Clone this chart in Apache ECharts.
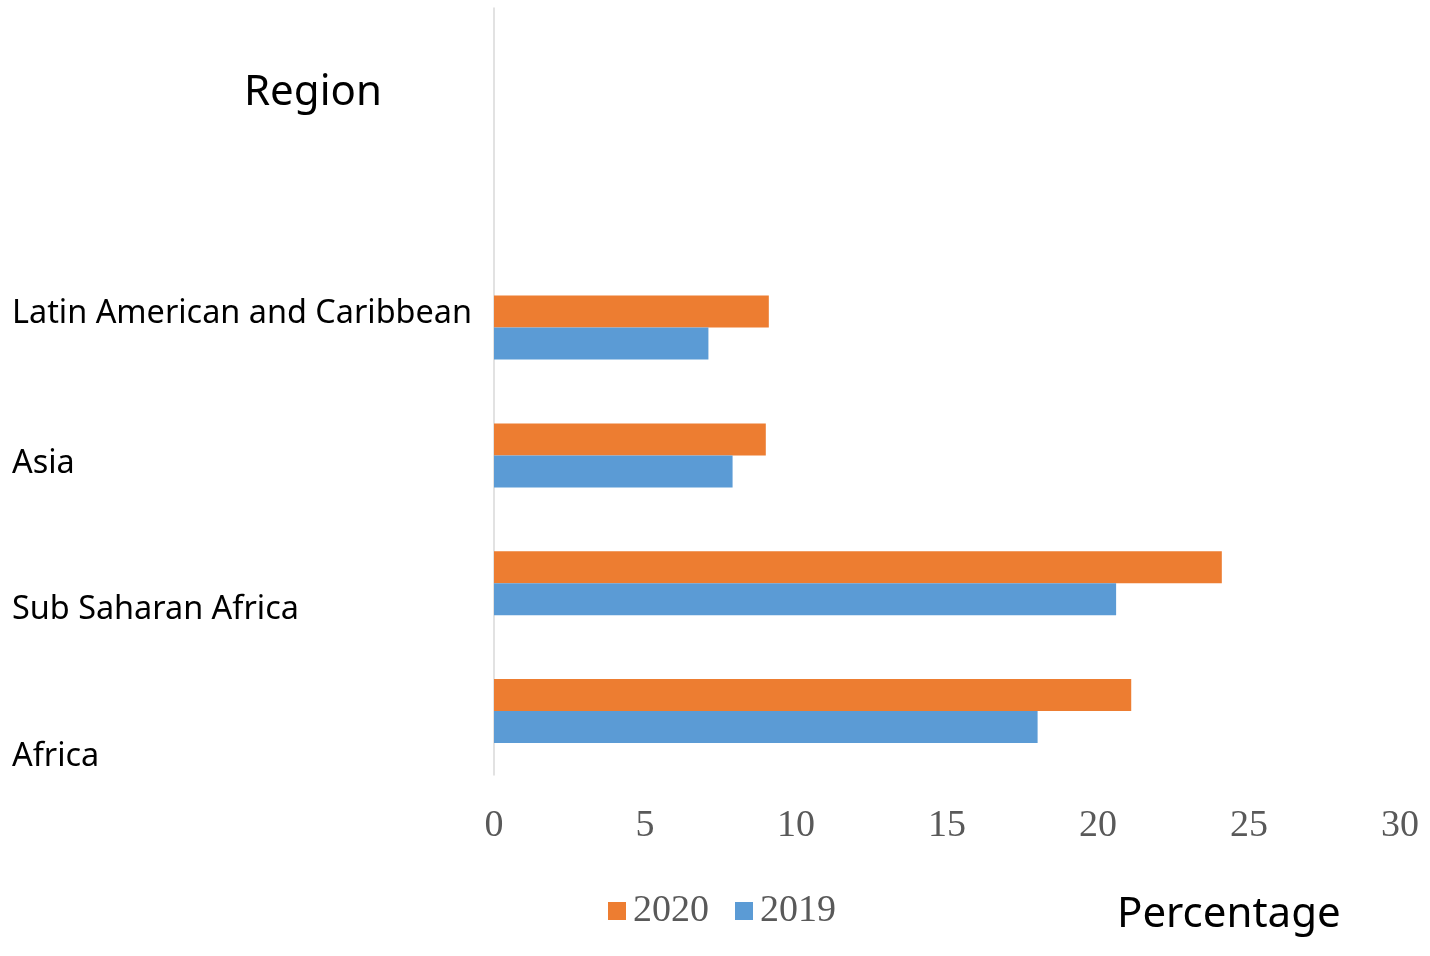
<!DOCTYPE html>
<html>
<head>
<meta charset="utf-8">
<script src="https://cdn.jsdelivr.net/npm/echarts@6/dist/echarts.min.js"></script>
<style>
html,body{margin:0;padding:0;background:#fff;}
#main{width:1430px;height:956px;}
</style>
</head>
<body>
<div id="main"></div>
<script>
// categories bottom to top, two empty slots on top like the original
var regions = ['Africa', 'Sub Saharan Africa', 'Asia', 'Latin American and Caribbean', '', ''];
var years = ['2020', '2019'];
var val2020 = [21.1, 24.1, 9.0, 9.1, null, null];
var val2019 = [18.0, 20.6, 7.9, 7.1, null, null];
var xTicks = [0, 5, 10, 15, 20, 25, 30];

// label shift (px, + = down) so the labels sit where the original puts them
var labelShift = [46, 27, 8, -14, 0, 0];

var chart = echarts.init(document.getElementById('main'));

var labelRich = {};
labelShift.forEach(function (d, i) {
	labelRich['s' + i] = {
		width: 472,
		align: 'left',
		fontFamily: 'Noto Sans',
		fontSize: 32.4,
		color: '#000',
		padding: d >= 0 ? [2 * d, 0, 0, 0] : [0, 0, -2 * d, 0]
	};
});

var option = {
	backgroundColor: '#fff',
	animation: false,
	title: [
		{ text: 'Region', left: 239, top: 67, textStyle: { fontFamily: 'Noto Sans', fontSize: 42, fontWeight: 'normal', color: '#000' } },
		{ text: 'Percentage', left: 1112, top: 889, textStyle: { fontFamily: 'Noto Sans', fontSize: 42, fontWeight: 'normal', color: '#000' } }
	],
	legend: {
		data: years,
		left: 603,
		top: 887,
		itemWidth: 18,
		itemHeight: 18,
		itemGap: 26,
		icon: 'rect',
		textStyle: { fontFamily: 'Liberation Serif', fontSize: 38, color: '#595959', padding: [0, 0, 0, 2] }
	},
	grid: { left: 494, right: 30, top: 8, bottom: 181, containLabel: false, outerBoundsMode: 'none' },
	xAxis: {
		type: 'value',
		min: xTicks[0],
		max: xTicks[xTicks.length - 1],
		interval: xTicks[1] - xTicks[0],
		axisLine: { show: false },
		axisTick: { show: false },
		splitLine: { show: false },
		axisLabel: { margin: 32, fontFamily: 'Liberation Serif', fontSize: 38, color: '#595959' }
	},
	yAxis: {
		type: 'category',
		data: regions,
		axisLine: { show: true, lineStyle: { color: '#d9d9d9', width: 1.5 } },
		axisTick: { show: false },
		splitLine: { show: false },
		axisLabel: {
			margin: 10,
			formatter: function (value, index) {
				return value ? '{s' + index + '|' + value + '}' : '';
			},
			rich: labelRich
		}
	},
	series: [
		{ name: '2020', type: 'bar', data: val2020, barWidth: 32, barGap: '0%', itemStyle: { color: '#ed7d31' } },
		{ name: '2019', type: 'bar', data: val2019, barWidth: 32, barGap: '0%', itemStyle: { color: '#5b9bd5' } }
	]
};
chart.setOption(option);
</script>
</body>
</html>
